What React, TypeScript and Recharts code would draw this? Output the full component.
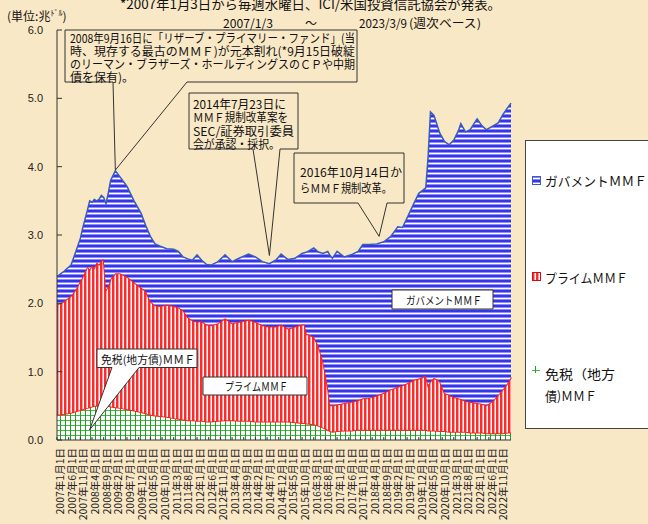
import { Area, AreaChart, XAxis, YAxis } from "recharts";

// month index from 2007/1 (weekly series read off at roughly monthly steps)
const months = [
  0, 3, 6, 8, 10, 11, 13, 14, 15, 16, 17, 18, 19, 20,
  21, 22, 23, 25, 27, 30, 33, 36, 38, 40, 42, 44, 47, 50, 52, 54, 56, 58, 60, 62, 64, 66,
  69, 72, 75, 78, 82, 85, 88, 91, 94, 96, 99, 102, 105, 106,
  107, 110, 112, 114, 116, 117, 118, 120, 123, 126, 129, 131, 134, 137, 140, 143, 146, 148, 150, 153, 155, 158,
  159, 160, 161.5, 164, 166, 168, 170, 172, 173, 175, 177, 180, 182, 184, 187, 189, 191, 193, 194.5,
];

// 免税(地方債)MMF, 兆ドル
const taxFree = [
  0.37, 0.38, 0.4, 0.42, 0.44, 0.45, 0.47, 0.48, 0.49, 0.5, 0.5, 0.5, 0.5, 0.5,
  0.5, 0.5, 0.49, 0.48, 0.47, 0.45, 0.43, 0.41, 0.39, 0.37, 0.36, 0.35, 0.34, 0.32, 0.31, 0.3, 0.29, 0.29, 0.28, 0.28, 0.27, 0.27,
  0.28, 0.29, 0.29, 0.28, 0.28, 0.27, 0.27, 0.27, 0.27, 0.27, 0.27, 0.26, 0.25, 0.25,
  0.24, 0.23, 0.21, 0.18, 0.15, 0.13, 0.12, 0.13, 0.14, 0.14, 0.15, 0.15, 0.15, 0.15, 0.15, 0.15, 0.15, 0.15, 0.15, 0.15, 0.15, 0.15,
  0.14, 0.14, 0.14, 0.13, 0.13, 0.12, 0.12, 0.12, 0.12, 0.12, 0.11, 0.11, 0.11, 0.1, 0.1, 0.1, 0.1, 0.11, 0.11,
];

// プライムMMF
const prime = [
  1.61, 1.65, 1.71, 1.78, 1.89, 1.94, 2.07, 2.02, 2.06, 2.02, 2.1, 2.07, 2.13, 2.15,
  1.7, 1.76, 1.87, 1.96, 1.97, 1.94, 1.88, 1.82, 1.79, 1.66, 1.61, 1.61, 1.64, 1.64, 1.63, 1.6, 1.51, 1.46, 1.45, 1.46, 1.42, 1.41,
  1.43, 1.49, 1.42, 1.45, 1.48, 1.46, 1.41, 1.39, 1.39, 1.42, 1.36, 1.4, 1.44, 1.44,
  1.31, 1.28, 1.17, 0.97, 0.63, 0.38, 0.39, 0.39, 0.4, 0.42, 0.43, 0.46, 0.47, 0.5, 0.54, 0.59, 0.63, 0.65, 0.68, 0.73, 0.75, 0.79,
  0.66, 0.72, 0.77, 0.73, 0.56, 0.54, 0.51, 0.49, 0.48, 0.45, 0.45, 0.43, 0.42, 0.41, 0.48, 0.56, 0.64, 0.72, 0.81,
];

// ガバメントMMF
const government = [
  0.41, 0.44, 0.45, 0.55, 0.62, 0.71, 0.82, 1.0, 0.93, 1.0, 0.9, 0.95, 0.95, 0.9,
  1.26, 1.36, 1.44, 1.5, 1.41, 1.32, 1.19, 1.09, 0.96, 0.95, 0.9, 0.88, 0.82, 0.83, 0.82, 0.78, 0.85, 0.88, 0.98, 0.89, 0.88, 0.88,
  0.9, 0.93, 0.9, 0.93, 0.96, 0.95, 0.93, 0.92, 0.98, 1.03, 1.01, 1.0, 1.04, 1.05,
  1.2, 1.3, 1.37, 1.58, 1.98, 2.19, 2.15, 2.24, 2.14, 2.15, 2.18, 2.25, 2.24, 2.22, 2.21, 2.24, 2.34, 2.31, 2.42, 2.59, 2.71, 2.75,
  3.35, 3.94, 3.84, 3.63, 3.68, 3.66, 3.76, 3.92, 4.03, 3.94, 3.98, 4.16, 4.07, 4.03, 4.02, 3.98, 4.02, 4.03, 4.01,
];

const tickLabels = [
  "2007年1月1日", "2007年6月1日", "2007年11月1日", "2008年4月1日", "2008年9月1日",
  "2009年2月1日", "2009年7月1日", "2009年12月1日", "2010年5月1日", "2010年10月1日",
  "2011年3月1日", "2011年8月1日", "2012年1月1日", "2012年6月1日", "2012年11月1日",
  "2013年4月1日", "2013年9月1日", "2014年2月1日", "2014年7月1日", "2014年12月1日",
  "2015年5月1日", "2015年10月1日", "2016年3月1日", "2016年8月1日", "2017年1月1日",
  "2017年6月1日", "2017年11月1日", "2018年4月1日", "2018年9月1日", "2019年2月1日",
  "2019年7月1日", "2019年12月1日", "2020年5月1日", "2020年10月1日", "2021年3月1日",
  "2021年8月1日", "2022年1月1日", "2022年6月1日", "2022年11月1日",
];
const tickMonths = tickLabels.map((_, i) => i * 5);
const yTicks = [0, 1, 2, 3, 4, 5, 6];

const data = months.map((m, i) => ({
  m,
  taxFree: taxFree[i],
  prime: prime[i],
  government: government[i],
}));

const W = 648;
const H = 524;
const LEFT = 57;
const TOP = 30;
const RIGHT = 511;
const BOTTOM = 440;
const X_MAX = 194.5;
const BG = "#f9e8c5";
const JP = "'Noto Sans CJK JP', sans-serif";

const px = (m: number) => LEFT + (m / X_MAX) * (RIGHT - LEFT);
const py = (v: number) => BOTTOM - (v / 6) * (BOTTOM - TOP);

function DateTick({ x, y, payload }: any) {
  const label = tickLabels[tickMonths.indexOf(payload.value)];
  return (
    <g transform={`translate(${x},${y})`}>
      <text transform="rotate(-90)" textAnchor="end" dy={7} fontSize={10.5} fill="#222" fontFamily={JP}>
        {label}
      </text>
    </g>
  );
}

function Line({ x, y, children, size = 12, len }: any) {
  return (
    <text
      x={x}
      y={y}
      fontSize={size}
      fill="#111"
      fontFamily={JP}
      dominantBaseline="central"
      textLength={len}
      lengthAdjust={len ? "spacingAndGlyphs" : undefined}
    >
      {children}
    </text>
  );
}

// box with a pointer on its bottom edge
function Callout({ l, t, r, b, a, c, tip, fill }: any) {
  const d = tip
    ? `M${l},${t} H${r} V${b} H${c} L${tip[0]},${tip[1]} L${a},${b} H${l} Z`
    : `M${l},${t} H${r} V${b} H${l} Z`;
  return <path d={d} fill={fill} stroke="#333" strokeWidth={1} />;
}

export default function App() {
  return (
    <div style={{ position: "absolute", left: 0, top: 0, width: W, height: H, background: BG, overflow: "hidden" }}>
      <AreaChart width={W} height={H} data={data} margin={{ top: TOP, right: W - RIGHT, bottom: 0, left: 0 }}>
        <XAxis
          dataKey="m"
          type="number"
          domain={[0, X_MAX]}
          ticks={tickMonths}
          interval={0}
          height={H - BOTTOM}
          tick={<DateTick />}
          tickSize={-3}
          tickMargin={11}
          stroke="#333"
        />
        <YAxis
          domain={[0, 6]}
          ticks={yTicks}
          width={LEFT}
          tickSize={-5}
          tickMargin={19}
          tickFormatter={(v: number) => v.toFixed(1)}
          tick={{ fill: "#222", fontSize: 11, fontFamily: "'Liberation Sans', Arial, sans-serif" }}
          stroke="#333"
        />
        <Area
          type="linear"
          dataKey="taxFree"
          stackId="mmf"
          fill="url(#pGreen)"
          fillOpacity={1}
          stroke="#ff2020"
          strokeWidth={2}
          dot={false}
          activeDot={false}
          isAnimationActive={false}
        />
        <Area
          type="linear"
          dataKey="prime"
          stackId="mmf"
          fill="url(#pRed)"
          fillOpacity={1}
          stroke="#ff2020"
          strokeWidth={2}
          dot={false}
          activeDot={false}
          isAnimationActive={false}
        />
        <Area
          type="linear"
          dataKey="government"
          stackId="mmf"
          fill="url(#pBlue)"
          fillOpacity={1}
          stroke="#3a5cb8"
          strokeWidth={1.5}
          dot={false}
          activeDot={false}
          isAnimationActive={false}
        />
      </AreaChart>

      <svg width={W} height={H} style={{ position: "absolute", left: 0, top: 0, pointerEvents: "none" }}>
        <defs>
          <pattern id="pBlue" width="8" height="5" patternUnits="userSpaceOnUse">
            <rect width="8" height="5" fill="#8e8ef6" />
            <rect width="8" height="2" fill="#3535ee" />
            <rect y="3" width="8" height="1" fill="#ffffff" />
          </pattern>
          <pattern id="pRed" width="4" height="8" patternUnits="userSpaceOnUse">
            <rect width="4" height="8" fill="#ffffff" />
            <rect width="2" height="8" fill="#ff2a2a" />
            <rect x="2" width="1" height="8" fill="#ff9a9a" />
          </pattern>
          <pattern id="pGreen" width="5" height="5" patternUnits="userSpaceOnUse">
            <rect width="5" height="5" fill="#ffffff" />
            <rect width="5" height="1" fill="#44bb44" />
            <rect width="1" height="5" fill="#1f9f1f" />
          </pattern>
        </defs>

        <Line x={120} y={3} size={13} len={381}>*2007年1月3日から毎週水曜日、ICI/米国投資信託協会が発表。</Line>
        <text x={7} y={15} fontSize={12} fill="#111" fontFamily={JP} dominantBaseline="central">
          (単位:兆<tspan fontSize={8} dy={-3}>ﾄﾞﾙ</tspan>
          <tspan dy={3}>)</tspan>
        </text>
        <Line x={223} y={22} len={50}>2007/1/3</Line>
        <Line x={305} y={22}>～</Line>
        <Line x={359} y={22} len={48}>2023/3/9</Line>
        <Line x={409} y={22} len={72}>(週次ベース)</Line>

        <Callout l={65} t={30} r={357} b={82} a={113} c={187} tip={[px(25), py(3.95)]} fill={BG} />
        <Line x={70} y={37} len={285}>2008年9月16日に「リザーブ・プライマリー・ファンド」(当</Line>
        <Line x={70} y={50} len={285}>時、現存する最古のＭＭＦ)が元本割れ(*9月15日破綻</Line>
        <Line x={70} y={63} len={285}>のリーマン・ブラザーズ・ホールディングスのＣＰや中期</Line>
        <Line x={70} y={76}>債を保有)。</Line>

        <Callout l={189} t={93} r={298} b={149} a={253} c={280} tip={[px(91), py(2.7)]} fill={BG} />
        <Line x={193} y={103} len={93}>2014年7月23日に</Line>
        <Line x={193} y={116.5} len={95}>ＭＭＦ規制改革案を</Line>
        <Line x={193} y={130} len={101}>SEC/証券取引委員</Line>
        <Line x={193} y={143} len={87}>会が承認・採択。</Line>

        <Callout l={294} t={153} r={404} b={203} a={358} c={387} tip={[px(138), py(2.98)]} fill={BG} />
        <Line x={300} y={171} len={102}>2016年10月14日か</Line>
        <Line x={300} y={187} len={92}>らＭＭＦ規制改革。</Line>

        <Callout l={97} t={349} r={197} b={367.5} a={112} c={139} tip={[px(14), py(0.15)]} fill="#fff" />
        <Line x={101} y={358.5} size={11} len={94}>免税(地方債)ＭＭＦ</Line>

        <Callout l={203} t={377} r={307} b={395} fill="#fff" />
        <Line x={225} y={386} size={11} len={63}>プライムＭＭＦ</Line>

        <Callout l={392} t={290} r={493} b={309} fill="#fff" />
        <Line x={406} y={299.5} size={11} len={76}>ガバメントＭＭＦ</Line>

        <rect x={525.5} y={140.5} width={130} height={288} fill="#fff" stroke="#444" />
        <rect x={532.5} y={176.5} width={8} height={8} fill="url(#pBlue)" stroke="#3a5cb8" />
        <Line x={545} y={180} size={13} len={102}>ガバメントＭＭＦ</Line>
        <rect x={532.5} y={272.5} width={8} height={8} fill="url(#pRed)" stroke="#d01010" />
        <Line x={545} y={277} size={13} len={83}>プライムＭＭＦ</Line>
        <rect x={532} y={366} width={8} height={7} fill="url(#pGreen)" />
        <Line x={545} y={373} size={13} len={70}>免税（地方</Line>
        <Line x={545} y={395} size={13} len={52}>債)ＭＭＦ</Line>
      </svg>
    </div>
  );
}
